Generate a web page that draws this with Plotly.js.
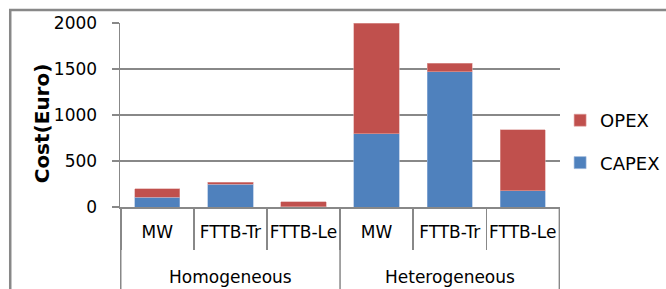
<!DOCTYPE html>
<html>
<head>
<meta charset="utf-8">
<script src="https://cdn.plot.ly/plotly-3.0.1.min.js"></script>
<style>html,body{margin:0;padding:0;background:#fff;}#chart{width:666px;height:289px;}</style>
</head>
<body>
<div id="chart"></div>
<script>
const groups = ['Homogeneous','Homogeneous','Homogeneous','Heterogeneous','Heterogeneous','Heterogeneous'];
const scenarios = ['MW','FTTB-Tr','FTTB-Le','MW','FTTB-Tr','FTTB-Le'];
const capex = [106, 248, 2, 795, 1468, 176];
const opex = [92, 21, 54, 1205, 93, 665];
const yTicks = [0, 500, 1000, 1500, 2000];
const groupNames = ['Homogeneous','Heterogeneous'];

// unique category keys built from the two label arrays
const keys = scenarios.map((s, i) => groups[i] + ' ' + s);

const FONT = 'DejaVu Sans, sans-serif';
const GRID = '#888888';

const traces = [
  {type:'bar', name:'CAPEX', x:keys, y:capex, legendgroup:'c', legendrank:2,
   marker:{color:'#4F81BD', line:{color:'#9DB7DC', width:0.6}}},
  {type:'bar', name:'OPEX', x:keys, y:opex, legendgroup:'o', legendrank:1,
   marker:{color:'#C0504D', line:{color:'#E0A3A1', width:0.6}}}
];

// group label annotations placed at the middle category of each group
const annotations = groupNames.map(g => {
  const idx = groups.indexOf(g);
  const n = groups.filter(v => v === g).length;
  return {xref:'x', yref:'paper', x:(idx + (n-1)/2), y:-0.38, yanchor:'middle',
          text:g, showarrow:false, font:{size:17, family:FONT, color:'#000'}};
});
annotations.push({xref:'paper', yref:'paper', x:-0.21, y:0.4526, textangle:-90,
  text:'<b>Cost(Euro)</b>', showarrow:false, font:{size:20, family:FONT, color:'#000'}});

// group dividers at the group boundaries
const shapes = [
  {type:'path', xref:'paper', yref:'paper', path:'M -0.2494,-0.6 L -0.2494,1.0705 L 1.4,1.0705',
   line:{color:GRID, width:2.5}}
];
const bounds = [0];
let acc = 0;
groupNames.forEach(g => { acc += groups.filter(v => v === g).length; bounds.push(acc); });
bounds.forEach(b => shapes.push({type:'line', xref:'x', yref:'paper', x0:b-0.5, x1:b-0.5, y0:0, y1:-0.5,
  line:{color:GRID, width:1.5}}));

const layout = {
  width:666, height:289,
  margin:{l:120, r:103, t:23, b:82},
  paper_bgcolor:'#fff', plot_bgcolor:'#fff',
  barmode:'stack', bargap:0.38,
  font:{family:FONT, size:17, color:'#000'},
  showlegend:true,
  legend:{xref:'container', yref:'container', x:0.841, xanchor:'left', y:0.647, yanchor:'top',
          traceorder:'grouped', tracegroupgap:16, font:{size:18, family:FONT}, bgcolor:'rgba(0,0,0,0)'},
  xaxis:{type:'category', tickvals:keys, ticktext:scenarios,
         tickson:'boundaries', ticks:'outside', ticklen:41, tickcolor:GRID, tickwidth:1.5,
         tickangle:0, automargin:false, ticklabelstandoff:9,
         showline:true, linecolor:GRID, linewidth:1.5, showgrid:false,
         tickfont:{size:17, family:FONT}},
  yaxis:{range:[0,2000], tickvals:yTicks, ticktext:yTicks.map(String), showgrid:true, gridcolor:GRID, gridwidth:1.5,
         ticks:'outside', ticklen:7, tickcolor:GRID, tickwidth:1.5, zeroline:false,
         showline:true, linecolor:GRID, linewidth:1.5, ticklabelstandoff:11, automargin:false,
         tickfont:{size:17, family:FONT}},
  annotations: annotations,
  shapes: shapes
};

Plotly.newPlot('chart', traces, layout, {displayModeBar:false, staticPlot:true});
</script>
</body>
</html>
